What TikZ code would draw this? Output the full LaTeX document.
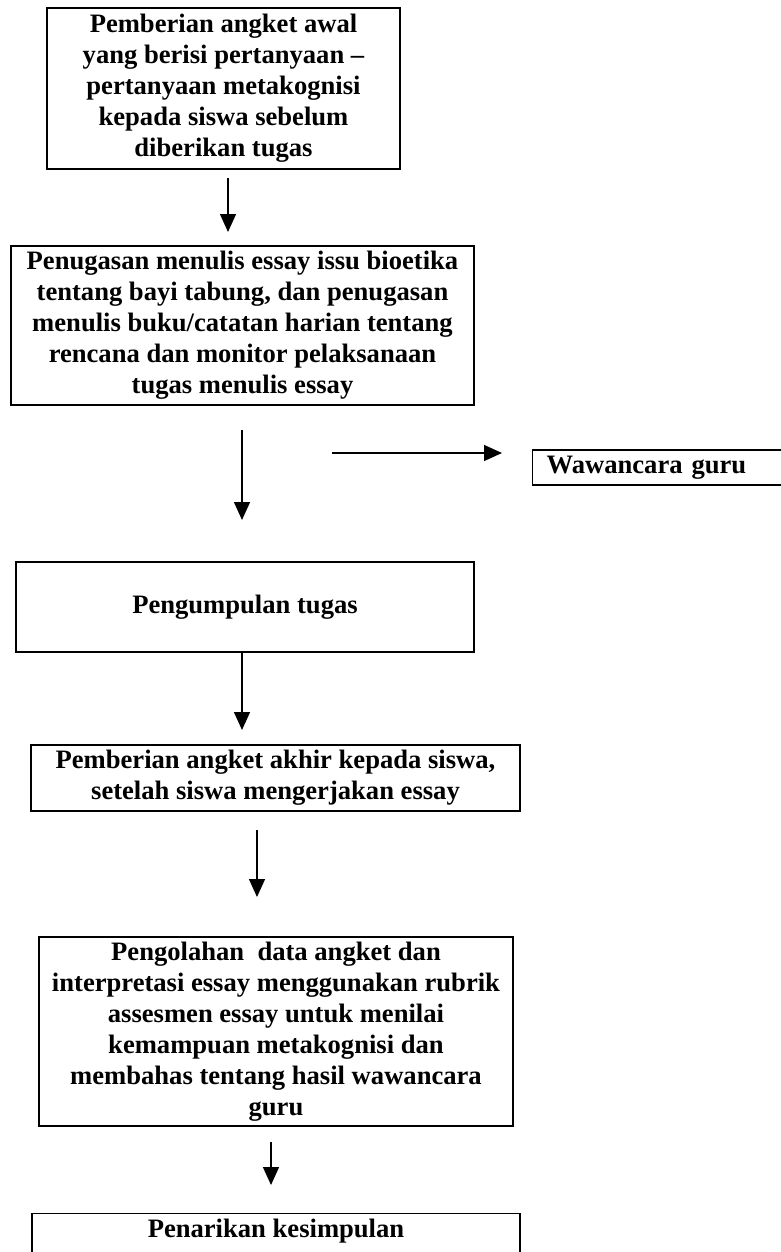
\documentclass[tikz,border=0pt]{standalone}
\usepackage{fontspec}
\setmainfont{Liberation Serif}
\usetikzlibrary{arrows.meta}

\tikzset{
  kotak/.style={draw, line width=0.7pt, align=center, inner sep=0pt,
    font=\fontsize{13.3}{15.5}\selectfont\bfseries},
  panah/.style={line width=0.7pt, -{Triangle[width=8pt,length=9pt]}}
}

\begin{document}
\begin{tikzpicture}[x=0.5pt, y=-0.5pt]
    % Bingkai gambar
    \useasboundingbox (0,0) rectangle (781,1252);

    % Kotak-kotak tahapan
    \node[kotak, minimum width=176.5pt, minimum height=80.5pt] (awal) at (223.5,88.5)
        {Pemberian angket awal\\ yang berisi pertanyaan --\\ pertanyaan metakognisi\\ kepada siswa sebelum\\ diberikan tugas};
    \node[kotak, minimum width=231.5pt, minimum height=79.5pt] (tugas) at (242.5,325.5)
        {Penugasan menulis essay issu bioetika\\ tentang bayi tabung, dan penugasan\\ menulis buku/catatan harian tentang\\ rencana dan monitor pelaksanaan\\ tugas menulis essay};
    \node[kotak, minimum width=229pt, minimum height=45pt] (kumpul) at (245,607)
        {Pengumpulan tugas};
    \node[kotak, minimum width=244.5pt, minimum height=33pt] (akhir) at (275.5,778)
        {Pemberian angket akhir kepada siswa,\\ setelah siswa mengerjakan essay};
    \node[kotak, minimum width=237pt, minimum height=94.5pt] (olah) at (276,1031.5)
        {Pengolahan\ \ data angket dan\\ interpretasi essay menggunakan rubrik\\ assesmen essay untuk menilai\\ kemampuan metakognisi dan\\ membahas tentang hasil wawancara\\ guru};
    \node[kotak, anchor=north, minimum width=244pt, inner ysep=4pt, text height=8pt, text depth=25pt] (simpul) at (276,1213)
        {Penarikan kesimpulan};

    % Kotak wawancara (sisi kanan terpotong)
    \node[kotak, anchor=west, align=left, minimum height=17.5pt, text width=133pt, inner xsep=7pt] (guru) at (532,467.5)
        {Wawancara guru};

    % Panah
    \coordinate (p1a) at (228,178);  \coordinate (p1b) at (228,232);
    \coordinate (p2a) at (242,430);  \coordinate (p2b) at (242,520);
    \coordinate (p3a) at (242,652);  \coordinate (p3b) at (242,730);
    \coordinate (p4a) at (257,830);  \coordinate (p4b) at (257,897);
    \coordinate (p5a) at (271,1142); \coordinate (p5b) at (271,1185);
    \coordinate (pwa) at (332,453);  \coordinate (pwb) at (502,453);

    \draw[panah] (p1a) -- (p1b);
    \draw[panah] (p2a) -- (p2b);
    \draw[panah] (p3a) -- (p3b);
    \draw[panah] (p4a) -- (p4b);
    \draw[panah] (p5a) -- (p5b);
    \draw[panah] (pwa) -- (pwb);

\end{tikzpicture}
\end{document}
